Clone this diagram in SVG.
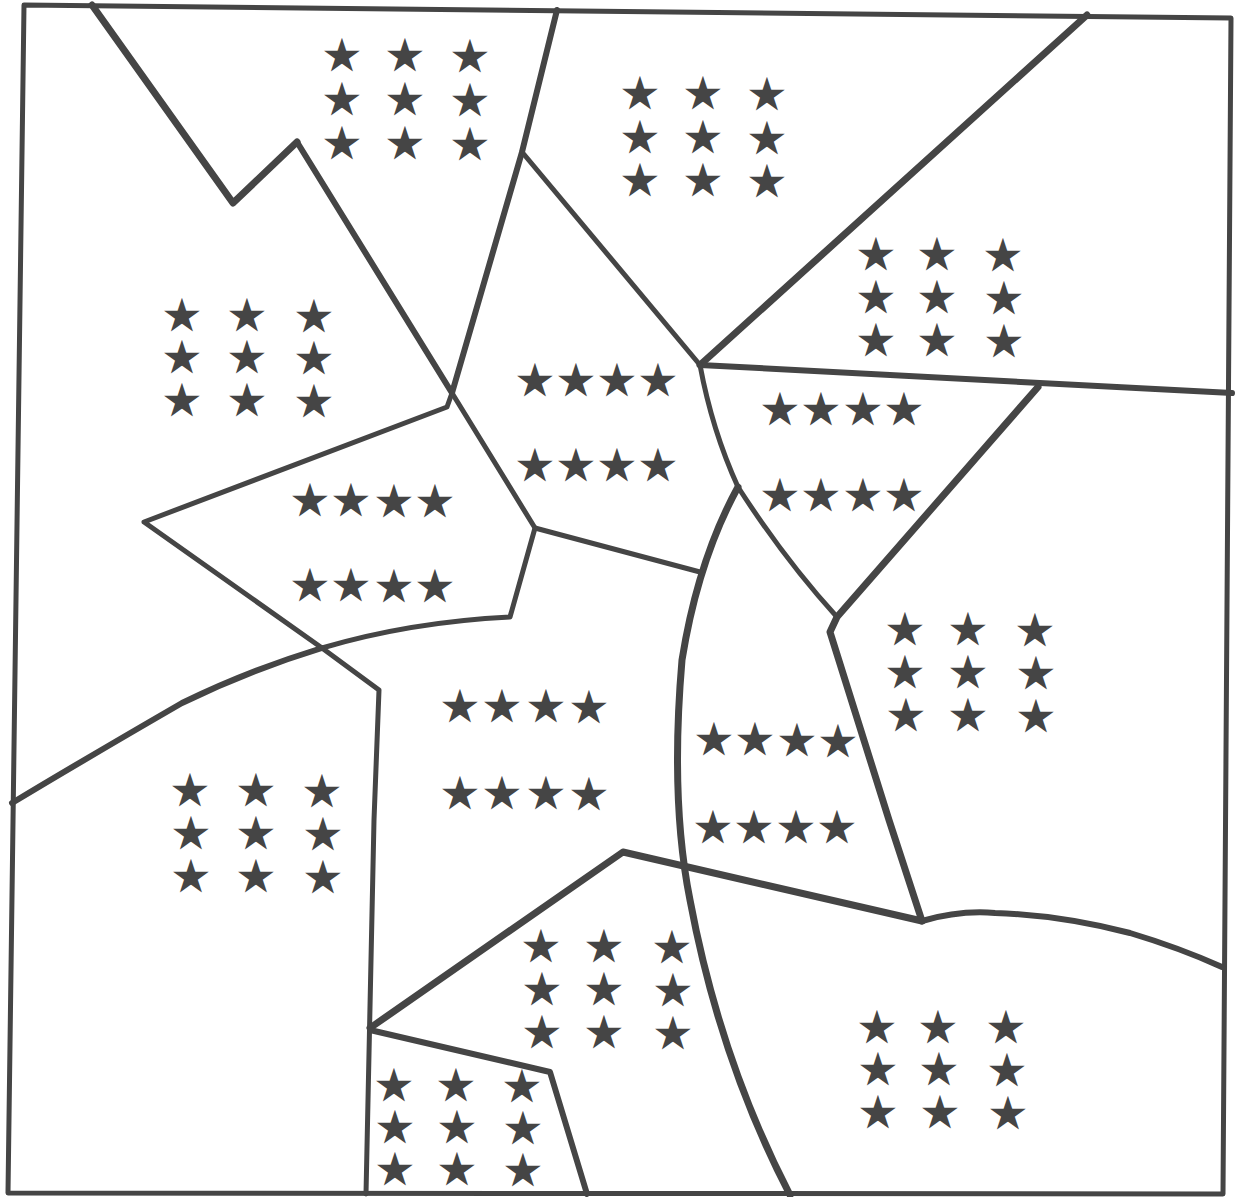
<svg xmlns="http://www.w3.org/2000/svg" width="1236" height="1197" viewBox="0 0 1236 1197">
<style>
.b{fill:none;stroke:#454545;stroke-linejoin:round;stroke-linecap:round}
.w4{stroke-width:5}.w5{stroke-width:6}.w6{stroke-width:7}
text{font-family:"DejaVu Sans",sans-serif;font-size:36px;fill:#454545;stroke:#454545;stroke-width:2.6;stroke-linejoin:miter;stroke-miterlimit:10;text-anchor:middle;dominant-baseline:central}
</style>
<rect width="1236" height="1197" fill="#fff"/>
<g id="borders">
<path class="b w4" d="M24,5 L1231,18 L1223,1194 L8,1193 Z"/>
<path class="b w6" d="M92,5 L233,203 L297,142"/>
<path class="b w5" d="M297,142 L452,393"/>
<path class="b w5" d="M557,10 L522,152 L452,393"/>
<path class="b w4" d="M522,152 L700,365"/>
<path class="b w6" d="M700,365 L1087,15"/>
<path class="b w5" d="M700,365 L1232,393"/>
<path class="b w6" d="M1038,387 L837,617 L830,632 L889,820 L922,921"/>
<path class="b w4" d="M700,365 Q712,430 738,487 Q785,560 837,617"/>
<path class="b w6" d="M738,487 Q698,560 682,660 Q670,800 690,900 Q720,1060 790,1195"/>
<path class="b w4" d="M535,528 L700,572"/>
<path class="b w4" d="M452,393 L535,528 L510,617 Q410,622 322,648 L379,690 L374,820 L366,1194"/>
<path class="b w4" d="M452,393 L447,407 L144,522 L322,648"/>
<path class="b w5" d="M12,803 Q80,762 182,703 Q250,670 322,648"/>
<path class="b w6" d="M370,1028 L623,852 L922,921"/>
<path class="b w5" d="M922,921 Q960,910 995,913 Q1060,915 1130,933 Q1180,948 1222,967"/>
<path class="b w5" d="M370,1030 L550,1072 L587,1194"/>
</g>
<g id="stars-top"><text><tspan x="342" y="55">★</tspan><tspan x="405" y="55">★</tspan><tspan x="470" y="56">★</tspan><tspan x="342" y="99">★</tspan><tspan x="405" y="99">★</tspan><tspan x="470" y="100">★</tspan><tspan x="342" y="143">★</tspan><tspan x="405" y="143">★</tspan><tspan x="470" y="144">★</tspan></text></g>
<g id="stars-top-right"><text><tspan x="640" y="93">★</tspan><tspan x="703" y="93">★</tspan><tspan x="767" y="94">★</tspan><tspan x="640" y="137">★</tspan><tspan x="703" y="137">★</tspan><tspan x="767" y="138">★</tspan><tspan x="640" y="180">★</tspan><tspan x="703" y="180">★</tspan><tspan x="767" y="181">★</tspan></text></g>
<g id="stars-right-upper"><text><tspan x="876" y="254">★</tspan><tspan x="937" y="254">★</tspan><tspan x="1003" y="255">★</tspan><tspan x="876" y="297">★</tspan><tspan x="937" y="297">★</tspan><tspan x="1004" y="298">★</tspan><tspan x="876" y="340">★</tspan><tspan x="937" y="340">★</tspan><tspan x="1004" y="341">★</tspan></text></g>
<g id="stars-left"><text><tspan x="182" y="315">★</tspan><tspan x="247" y="315">★</tspan><tspan x="314" y="316">★</tspan><tspan x="182" y="357">★</tspan><tspan x="247" y="357">★</tspan><tspan x="314" y="358">★</tspan><tspan x="182" y="400">★</tspan><tspan x="247" y="400">★</tspan><tspan x="314" y="401">★</tspan></text></g>
<g id="stars-center"><text><tspan x="535" y="380">★</tspan><tspan x="576" y="380">★</tspan><tspan x="617" y="380">★</tspan><tspan x="658" y="380">★</tspan><tspan x="535" y="465">★</tspan><tspan x="576" y="465">★</tspan><tspan x="617" y="465">★</tspan><tspan x="658" y="465">★</tspan></text></g>
<g id="stars-right-center"><text><tspan x="780" y="409">★</tspan><tspan x="821" y="409">★</tspan><tspan x="863" y="409">★</tspan><tspan x="904" y="409">★</tspan><tspan x="780" y="495">★</tspan><tspan x="821" y="495">★</tspan><tspan x="863" y="495">★</tspan><tspan x="904" y="495">★</tspan></text></g>
<g id="stars-pentagon"><text><tspan x="310" y="500">★</tspan><tspan x="351" y="500">★</tspan><tspan x="394" y="501">★</tspan><tspan x="435" y="501">★</tspan><tspan x="310" y="585">★</tspan><tspan x="351" y="585">★</tspan><tspan x="394" y="586">★</tspan><tspan x="435" y="586">★</tspan></text></g>
<g id="stars-central"><text><tspan x="460" y="706">★</tspan><tspan x="502" y="706">★</tspan><tspan x="546" y="706">★</tspan><tspan x="589" y="707">★</tspan><tspan x="460" y="793">★</tspan><tspan x="502" y="793">★</tspan><tspan x="546" y="793">★</tspan><tspan x="589" y="794">★</tspan></text></g>
<g id="stars-right-middle"><text><tspan x="905" y="629">★</tspan><tspan x="968" y="629">★</tspan><tspan x="1035" y="630">★</tspan><tspan x="905" y="672">★</tspan><tspan x="968" y="672">★</tspan><tspan x="1036" y="673">★</tspan><tspan x="906" y="715">★</tspan><tspan x="968" y="715">★</tspan><tspan x="1036" y="716">★</tspan></text></g>
<g id="stars-arc"><text><tspan x="714" y="739">★</tspan><tspan x="755" y="739">★</tspan><tspan x="797" y="740">★</tspan><tspan x="838" y="741">★</tspan><tspan x="713" y="827">★</tspan><tspan x="754" y="827">★</tspan><tspan x="796" y="827">★</tspan><tspan x="837" y="827">★</tspan></text></g>
<g id="stars-left-bottom"><text><tspan x="190" y="790">★</tspan><tspan x="256" y="790">★</tspan><tspan x="322" y="791">★</tspan><tspan x="191" y="833">★</tspan><tspan x="256" y="833">★</tspan><tspan x="323" y="834">★</tspan><tspan x="191" y="876">★</tspan><tspan x="256" y="876">★</tspan><tspan x="323" y="877">★</tspan></text></g>
<g id="stars-bottom-center"><text><tspan x="541" y="946">★</tspan><tspan x="604" y="946">★</tspan><tspan x="672" y="947">★</tspan><tspan x="542" y="989">★</tspan><tspan x="604" y="989">★</tspan><tspan x="673" y="990">★</tspan><tspan x="542" y="1032">★</tspan><tspan x="604" y="1032">★</tspan><tspan x="673" y="1033">★</tspan></text></g>
<g id="stars-bottom-small"><text><tspan x="394" y="1085">★</tspan><tspan x="456" y="1085">★</tspan><tspan x="522" y="1086">★</tspan><tspan x="395" y="1127">★</tspan><tspan x="457" y="1127">★</tspan><tspan x="523" y="1128">★</tspan><tspan x="395" y="1169">★</tspan><tspan x="457" y="1169">★</tspan><tspan x="523" y="1170">★</tspan></text></g>
<g id="stars-bottom-right"><text><tspan x="877" y="1027">★</tspan><tspan x="938" y="1027">★</tspan><tspan x="1006" y="1027">★</tspan><tspan x="878" y="1069">★</tspan><tspan x="939" y="1069">★</tspan><tspan x="1007" y="1070">★</tspan><tspan x="878" y="1112">★</tspan><tspan x="940" y="1112">★</tspan><tspan x="1008" y="1113">★</tspan></text></g>
</svg>
